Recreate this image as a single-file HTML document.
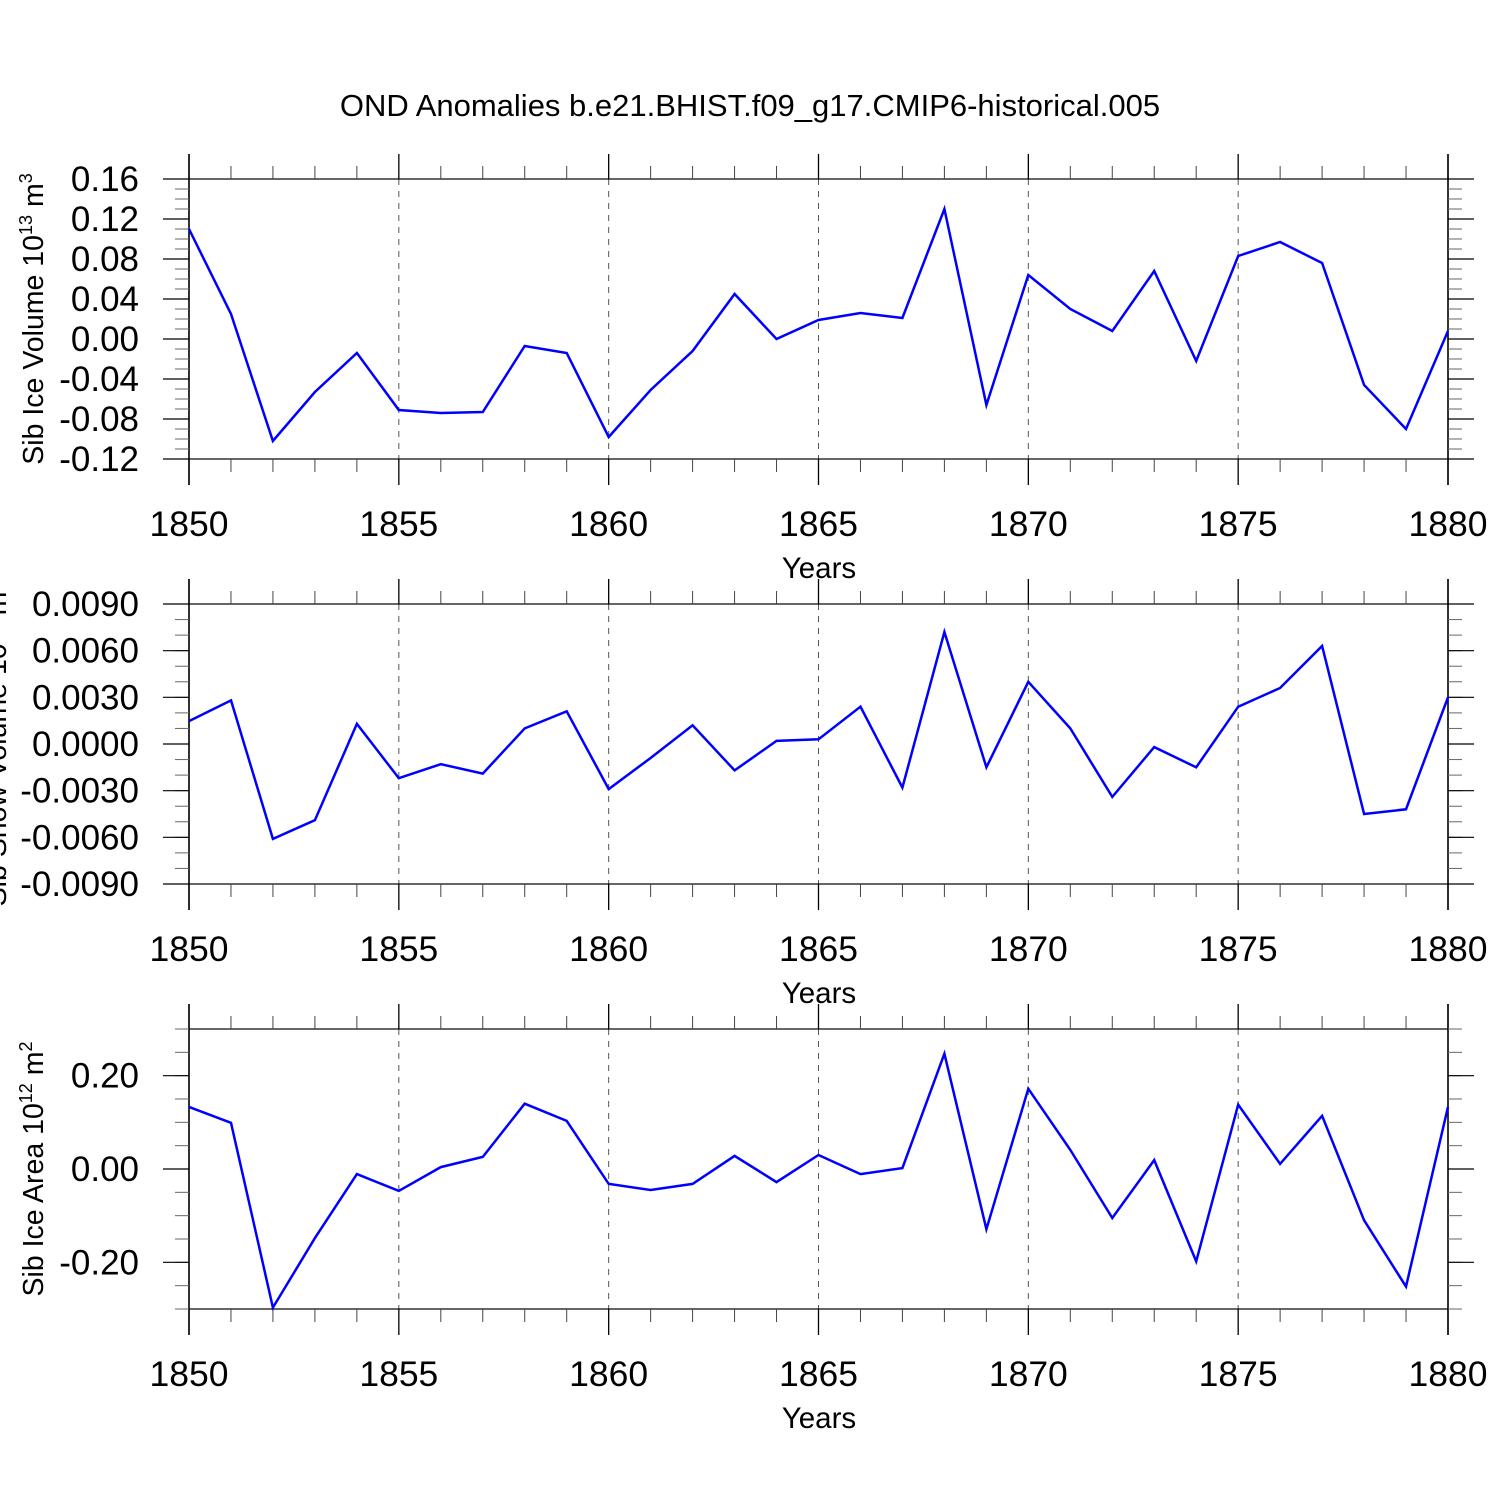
<!DOCTYPE html>
<html><head><meta charset="utf-8"><style>
html,body{margin:0;padding:0;background:#fff;}
svg{display:block;font-family:"Liberation Sans",sans-serif;}
</style></head><body>
<svg id="c" width="1500" height="1500" xmlns="http://www.w3.org/2000/svg">
<text x="750" y="116" font-size="31" text-anchor="middle">OND Anomalies b.e21.BHIST.f09_g17.CMIP6-historical.005</text>
</svg>
<script>
const years = [1850,1851,1852,1853,1854,1855,1856,1857,1858,1859,1860,1861,1862,1863,1864,1865,1866,1867,1868,1869,1870,1871,1872,1873,1874,1875,1876,1877,1878,1879,1880];
const iceVolume = [0.110,0.025,-0.102,-0.053,-0.014,-0.071,-0.074,-0.073,-0.007,-0.014,-0.098,-0.051,-0.012,0.045,0.000,0.019,0.026,0.021,0.130,-0.066,0.064,0.030,0.008,0.068,-0.022,0.083,0.097,0.076,-0.046,-0.090,0.008];
const snowVolume = [0.00147,0.0028,-0.0061,-0.0049,0.0013,-0.0022,-0.0013,-0.0019,0.0010,0.0021,-0.0029,-0.0009,0.0012,-0.0017,0.0002,0.0003,0.0024,-0.0028,0.0072,-0.0015,0.0040,0.0010,-0.0034,-0.0002,-0.0015,0.0024,0.0036,0.0063,-0.0045,-0.0042,0.0030];
const iceArea = [0.133,0.099,-0.297,-0.148,-0.011,-0.047,0.004,0.026,0.140,0.103,-0.032,-0.045,-0.032,0.028,-0.028,0.030,-0.011,0.002,0.247,-0.129,0.172,0.041,-0.105,0.019,-0.198,0.138,0.011,0.114,-0.110,-0.252,0.133];
const xTickLabels = ["1850","1855","1860","1865","1870","1875","1880"];
const ticks1 = ["0.16","0.12","0.08","0.04","0.00","-0.04","-0.08","-0.12"];
const ticks2 = ["0.0090","0.0060","0.0030","0.0000","-0.0030","-0.0060","-0.0090"];
const ticks3 = ["0.20","0.00","-0.20"];

const svg=document.getElementById('c');
const NS='http://www.w3.org/2000/svg';
function el(tag,attrs,parent){const e=document.createElementNS(NS,tag);for(const k in attrs)e.setAttribute(k,attrs[k]);(parent||svg).appendChild(e);return e;}
const X0=189,X1=1448;
function xs(y){return X0+(y-1850)/30*(X1-X0);}

function panel(idx,top,ymin,ymax,tickLabels,minorStep,data,ylabelHTML,labelX){
  const bot=top+280;
  const ys=v=>bot-(v-ymin)/(ymax-ymin)*280;
  const g=el('g',{});
  
  
  for(let k=1;k<6;k++){const l=el('line',{x1:xs(1850+5*k),x2:xs(1850+5*k),y1:top,y2:bot,stroke:'#555','stroke-width':1,'stroke-dasharray':'6,6'},g);
    }
  el('rect',{x:X0,y:top,width:X1-X0,height:280,fill:'none',stroke:'#000','stroke-width':1.2},g);
  el('line',{x1:X0,x2:X0,y1:top-25,y2:bot+26,stroke:'#000','stroke-width':1.5},g);
  el('line',{x1:X1,x2:X1,y1:top-25,y2:bot+26,stroke:'#000','stroke-width':1.5},g);
  for(let yr=1850;yr<=1880;yr++){const x=xs(yr);const maj=(yr%5===0);
    el('line',{x1:x,x2:x,y1:top,y2:top-(maj?25:13),stroke:maj?'#000':'#444','stroke-width':maj?1.3:1},g);
    el('line',{x1:x,x2:x,y1:bot,y2:bot+(maj?26:13),stroke:maj?'#000':'#444','stroke-width':maj?1.3:1},g);}
  xTickLabels.forEach(s=>{const t=el('text',{x:xs(+s),y:bot+77,'font-size':35.5,'text-anchor':'middle'},g);t.textContent=s;
    });
  const xt=el('text',{x:819,y:bot+119,'font-size':29.5,'text-anchor':'middle'},g);xt.textContent='Years';
  
  const n=Math.round((ymax-ymin)/minorStep);
  for(let i=0;i<=n;i++){const y=bot-i/n*280;
    el('line',{x1:X0,x2:X0-14,y1:y,y2:y,stroke:'#666','stroke-width':1},g);
    el('line',{x1:X1,x2:X1+14,y1:y,y2:y,stroke:'#666','stroke-width':1},g);}
  tickLabels.forEach(s=>{const y=ys(parseFloat(s));
    el('line',{x1:X0,x2:X0-26,y1:y,y2:y,stroke:'#000','stroke-width':1.2},g);
    el('line',{x1:X1,x2:X1+26,y1:y,y2:y,stroke:'#000','stroke-width':1.2},g);
    const t=el('text',{x:139,y:y+12,'font-size':35,'text-anchor':'end'},g);t.textContent=s;
    });
  const yt=el('text',{x:labelX,y:top+140,'font-size':28.5,'text-anchor':'middle',transform:`rotate(-90 ${labelX} ${top+140})`},g);
  yt.innerHTML=ylabelHTML;
  
  const pts=data.map((v,i)=>xs(years[i]).toFixed(1)+','+ys(v).toFixed(1)).join(' ');
  const pl=el('polyline',{points:pts,fill:'none',stroke:'#0000ff','stroke-width':2.5,'stroke-linejoin':'miter'},g);
  
}
const sup=(a,b,c)=>`${a}<tspan font-size="18" dy="-11">${b}</tspan><tspan dy="11"> m</tspan><tspan font-size="18" dy="-11">${c}</tspan>`;
panel(1,179,-0.12,0.16,ticks1,0.01,iceVolume,sup('Sib Ice Volume 10','13','3'),43);
panel(2,604,-0.009,0.009,ticks2,0.001,snowVolume,sup('Sib Snow Volume 10','13','3'),6);
panel(3,1029,-0.3,0.3,ticks3,0.05,iceArea,sup('Sib Ice Area 10','12','2'),43);
</script>
</body></html>
